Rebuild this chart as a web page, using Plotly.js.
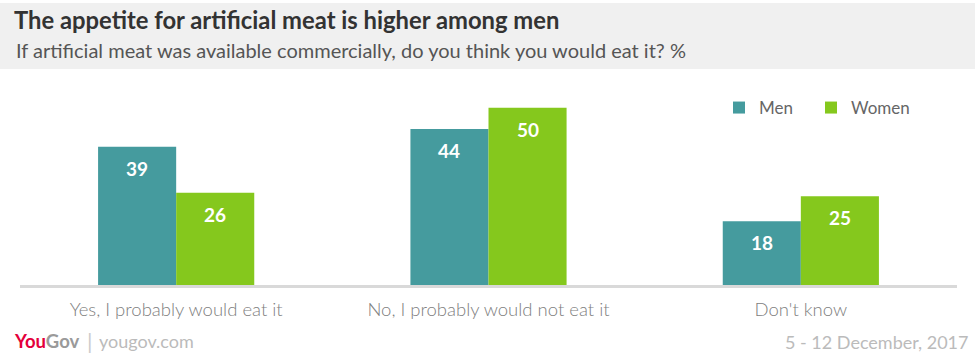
<!DOCTYPE html>
<html>
<head>
<meta charset="utf-8">
<script src="https://cdn.plot.ly/plotly-3.0.1.min.js"></script>
<style>html,body{margin:0;padding:0;background:#fff;}#chart{width:975px;height:363px;}</style>
</head>
<body>
<div id="chart"></div>
<script>
const categories = ["Yes, I probably would eat it", "No, I probably would not eat it", "Don't know"];
const seriesNames = ["Men", "Women"];
const men = [39, 44, 18];
const women = [26, 50, 25];
const titleText = "The appetite for artificial meat is higher among men";
const subtitleText = "If artificial meat was available commercially, do you think you would eat it? %";
const dateText = "5 - 12 December, 2017";
const siteText = "yougov.com";

const W = 975, H = 363;
const M = {l: 20, r: 18, t: 100, b: 78};
const PW = W - M.l - M.r, PH = H - M.t - M.b;
const px = v => (v - M.l) / PW;
const py = v => (H - M.b - v) / PH;

const FONT = "Lato, 'Open Sans', sans-serif";
const colors = ["#459B9E", "#85C81D"];
const legendIds = ["legend", "legend2"];

const traces = [men, women].map((vals, k) => ({
  type: "bar",
  name: seriesNames[k],
  x: categories,
  y: vals,
  legend: legendIds[k],
  marker: {color: colors[k], line: {width: 0}},
  hoverinfo: "skip"
}));

const annotations = [];
[men, women].forEach((vals, k) => {
  vals.forEach((v, i) => {
    annotations.push({
      xref: "x", yref: "y", x: i + (k === 0 ? -0.125 : 0.125), y: v,
      text: "<b>" + v + "</b>", showarrow: false, yanchor: "top", xanchor: "center",
      yshift: -8, font: {family: FONT, size: 19, color: "#ffffff"}
    });
  });
});

annotations.push({
  xref: "paper", yref: "paper", x: px(14), y: py(50), xanchor: "left", yanchor: "middle",
  text: subtitleText, showarrow: false, font: {family: FONT, size: 20, color: "#555555"}
});
annotations.push({
  xref: "paper", yref: "paper", x: px(12), y: py(341), xanchor: "left", yanchor: "middle",
  text: '<b><span style="color:#e4003b">You</span><span style="color:#9a9a9a">Gov</span></b>',
  showarrow: false, font: {family: FONT, size: 18.5}
});
annotations.push({
  xref: "paper", yref: "paper", x: px(90), y: py(340), xanchor: "center", yanchor: "middle",
  text: "|", showarrow: false, font: {family: FONT, size: 22, color: "#cccccc"}
});
annotations.push({
  xref: "paper", yref: "paper", x: px(97), y: py(341), xanchor: "left", yanchor: "middle",
  text: siteText, showarrow: false, font: {family: FONT, size: 18, color: "#bbbbbb"}
});
annotations.push({
  xref: "paper", yref: "paper", x: px(971), y: py(342), xanchor: "right", yanchor: "middle",
  text: dateText, showarrow: false, font: {family: FONT, size: 18, color: "#bbbbbb"}
});

const legendStyle = (xPix) => ({
  orientation: "h", x: px(xPix), y: py(108), xanchor: "left", yanchor: "middle",
  font: {family: FONT, size: 17, color: "#666666"}, bgcolor: "rgba(0,0,0,0)"
});

const layout = {
  width: W, height: H,
  margin: M,
  paper_bgcolor: "#ffffff", plot_bgcolor: "#ffffff",
  title: {
    text: "<b>" + titleText + "</b>",
    xref: "container", yref: "container", x: 14 / W, xanchor: "left",
    y: 1 - 21 / H, yanchor: "middle",
    font: {family: FONT, size: 23.8, color: "#333333"}
  },
  barmode: "group", bargap: 0.5, bargroupgap: 0,
  xaxis: {
    type: "category", showline: true, linecolor: "#d9d9d9", linewidth: 3,
    ticks: "", showgrid: false, zeroline: false, ticklabelstandoff: 6,
    tickfont: {family: FONT, size: 18.5, color: "#808080", weight: 300}
  },
  yaxis: {range: [0, 185 / (138.3 / 39)], visible: false, showgrid: false, zeroline: false, fixedrange: true},
  showlegend: true,
  legend: legendStyle(719),
  legend2: legendStyle(811),
  shapes: [{
    type: "rect", xref: "paper", yref: "paper", layer: "below",
    x0: px(0), x1: px(975), y0: py(69), y1: py(3),
    fillcolor: "#f0f0f0", line: {width: 0}
  }],
  annotations: annotations
};

Plotly.newPlot("chart", traces, layout, {displayModeBar: false, staticPlot: true});
</script>
</body>
</html>
